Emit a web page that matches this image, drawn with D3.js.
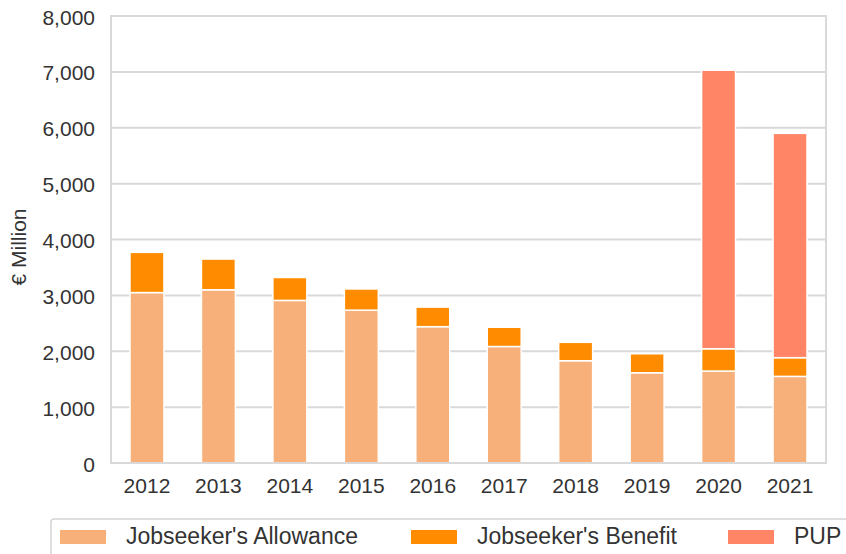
<!DOCTYPE html>
<html>
<head>
<meta charset="utf-8">
<script src="https://cdn.jsdelivr.net/npm/d3@7/dist/d3.min.js"></script>
<style>
body { margin: 0; background: #fff; }
svg { display: block; font-family: "Liberation Sans", Arial, sans-serif; }
</style>
</head>
<body>
<svg id="chart" width="846" height="554"></svg>
<script>
const years = ["2012","2013","2014","2015","2016","2017","2018","2019","2020","2021"];
const allowance = [3050, 3100, 2910, 2735, 2440, 2085, 1830, 1615, 1645, 1550];
const benefit   = [720, 550, 410, 380, 350, 345, 330, 340, 400, 335];
const pup       = [0, 0, 0, 0, 0, 0, 0, 0, 4985, 4015];
const seriesNames = ["Jobseeker's Allowance", "Jobseeker's Benefit", "PUP"];
const colors = ["#F8B07A", "#FF8C00", "#FF8566"];
const yTicks = [0, 1000, 2000, 3000, 4000, 5000, 6000, 7000, 8000];

const svg = d3.select("#chart");
const L = 111, R = 826, T = 16, B = 463;
const textColor = "#333";

const x = d3.scaleBand().domain(years).range([L, R]).paddingInner(0.525).paddingOuter(0.266);
const y = d3.scaleLinear().domain([0, 8000]).range([B, T]);

// gridlines
svg.append("g").selectAll("line").data(yTicks.filter(d => d > 0 && d < 8000)).join("line")
  .attr("x1", L).attr("x2", R)
  .attr("y1", d => y(d)).attr("y2", d => y(d))
  .attr("stroke", "#d9d9d9").attr("stroke-width", 2);

// stacked data
const table = years.map((yr, i) => ({year: yr, a: allowance[i], b: benefit[i], p: pup[i]}));
const stack = d3.stack().keys(["a", "b", "p"])(table);

svg.append("g").selectAll("g").data(stack).join("g")
  .attr("fill", (d, i) => colors[i])
  .selectAll("rect").data(d => d.filter(v => v[1] - v[0] > 0)).join("rect")
  .attr("x", d => x(d.data.year))
  .attr("width", x.bandwidth())
  .attr("y", d => y(d[1]))
  .attr("height", d => y(d[0]) - y(d[1]))
  .attr("stroke", "#fff").attr("stroke-width", 1.5);

// plot border
svg.append("rect").attr("x", L).attr("y", T).attr("width", R - L).attr("height", B - T)
  .attr("fill", "none").attr("stroke", "#d9d9d9").attr("stroke-width", 2);

// y axis
const yAxis = d3.axisLeft(y).tickValues(yTicks).tickFormat(d3.format(",")).tickSize(0).tickPadding(16);
const gy = svg.append("g").attr("transform", `translate(${L},0)`).call(yAxis);
gy.select(".domain").remove();
gy.selectAll("text").attr("font-size", 21).attr("dy", 8).attr("fill", textColor)
  .attr("font-family", "Liberation Sans, Arial, sans-serif");

// x axis
const xAxis = d3.axisBottom(x).tickSize(0);
const gx = svg.append("g").attr("transform", `translate(0,${B})`).call(xAxis);
gx.select(".domain").remove();
gx.selectAll("text").attr("font-size", 21).attr("y", 30).attr("dy", 0).attr("fill", textColor)
  .attr("font-family", "Liberation Sans, Arial, sans-serif");

// y title
svg.append("text").attr("transform", `translate(26,247) rotate(-90)`)
  .attr("text-anchor", "middle").attr("font-size", 21).attr("fill", textColor).text("€ Million");

// legend
svg.append("rect").attr("x", 51).attr("y", 519).attr("width", 820).attr("height", 60).attr("rx", 3)
  .attr("fill", "#fff").attr("stroke", "#d4d4d4").attr("stroke-width", 1.5);
const legX = [60, 411, 728];
const lg = svg.append("g").selectAll("g").data(seriesNames).join("g")
  .attr("transform", (d, i) => `translate(${legX[i]},530)`);
lg.append("rect").attr("width", 46).attr("height", 14).attr("fill", (d, i) => colors[i]);
lg.append("text").attr("x", 66).attr("y", 14).attr("font-size", 23).attr("fill", textColor).text(d => d);
</script>
</body>
</html>
